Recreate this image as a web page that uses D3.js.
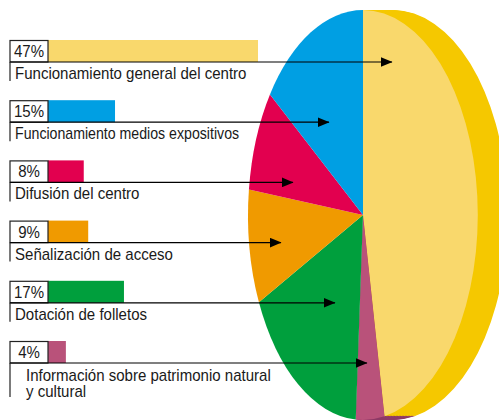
<!DOCTYPE html>
<html><head><meta charset="utf-8">
<script src="https://cdn.jsdelivr.net/npm/d3@7"></script>
<style>html,body{margin:0;padding:0;background:#fff;overflow:hidden}svg{display:block}
text{font-family:"Liberation Sans Narrow","Liberation Sans",sans-serif;fill:#1a1a1a}</style>
</head><body><svg id="c" width="499" height="420"></svg>
<script>
const categories = ["Funcionamiento general del centro","Funcionamiento medios expositivos","Difusión del centro","Señalización de acceso","Dotación de folletos","Información sobre patrimonio natural|y cultural"];
const shares = [47,15,8,9,17,4];
const barColors = ["#F9D86C","#009FE3","#E2004F","#F09A00","#009F3D","#B9527A"];
// drawing order of the pie, clockwise from the top
const pieOrder = [0,5,4,3,2,1];

const W=499,H=420,cx=363,cy=215,rx=115,ry=205,depth=30,squeeze=0.94;
const labelSqueeze=[0.94,0.885,0.94,0.94,0.94,0.94];
const svg=d3.select("#c");
const defs=svg.append("defs");
defs.append("marker").attr("id","ah").attr("viewBox","0 0 12 10").attr("refX",11.5).attr("refY",5)
  .attr("markerWidth",12).attr("markerHeight",10).attr("markerUnits","userSpaceOnUse").attr("orient","auto")
  .append("path").attr("d","M0,0L12,5L0,10Z").attr("fill","#000");

const pieGen=d3.pie().sort(null).value(i=>shares[i]);
const slices=pieGen(pieOrder);
const arc=d3.arc().innerRadius(0).outerRadius(1);
const pieG=svg.append("g");
const sw=d3.range(0,depth+1,1.5);
const sideColors={0:"#F5C800",5:"#8E3A66"};
// extruded side: maroon below, yellow above
[5,0].forEach(k=>{
  const s=slices.find(d=>d.data===k);
  pieG.selectAll(null).data(sw).join("path")
    .attr("transform",d=>`translate(${cx+d},${cy}) scale(${rx},${ry})`)
    .attr("d",arc(s)).attr("fill",sideColors[k]);
});
pieG.selectAll(null).data(slices).join("path")
  .attr("transform",`translate(${cx},${cy}) scale(${rx},${ry})`)
  .attr("d",arc).attr("fill",d=>barColors[d.data]);

const y=d3.scalePoint().domain(categories).range([40,341]);
const x=d3.scaleLinear().domain([0,47]).range([48,258]);
const boxH=22, boxL=10;
// where each leader arrow lands inside the pie
const arrowTips=[392,329,293,281,335,367];

const rows=svg.selectAll("g.row").data(categories).join("g").attr("class","row")
  .attr("transform",d=>`translate(0,${y(d)})`);
rows.append("rect").attr("x",x(0)).attr("y",0).attr("height",boxH)
  .attr("width",(d,i)=>x(shares[i])-x(0)).attr("fill",(d,i)=>barColors[i]);
rows.append("rect").attr("x",boxL).attr("y",0.5).attr("width",x(0)-boxL).attr("height",boxH-0.5)
  .attr("fill","#fff").attr("stroke","#222").attr("stroke-width",1.2);
rows.append("text").attr("transform",`translate(${(boxL+x(0))/2},${boxH-5}) scale(${squeeze},1)`)
  .attr("text-anchor","middle").attr("font-size",16).text((d,i)=>shares[i]+"%");
rows.append("line").attr("x1",boxL).attr("x2",(d,i)=>arrowTips[i]).attr("y1",boxH).attr("y2",boxH)
  .attr("stroke","#000").attr("stroke-width",1.2).attr("marker-end","url(#ah)");
rows.append("line").attr("x1",boxL).attr("x2",boxL).attr("y1",boxH)
  .attr("y2",(d,i)=>boxH+(d.includes("|")?34:19)).attr("stroke","#222").attr("stroke-width",1.2);
rows.each(function(d,i){
  const g=d3.select(this), parts=d.split("|"), multi=parts.length>1;
  parts.forEach((p,j)=>g.append("text")
    .attr("transform",`translate(${multi?26:15},${boxH+(multi?18:17)+j*16}) scale(${labelSqueeze[i]},1)`)
    .attr("font-size",16).text(p));
});
</script></body></html>
